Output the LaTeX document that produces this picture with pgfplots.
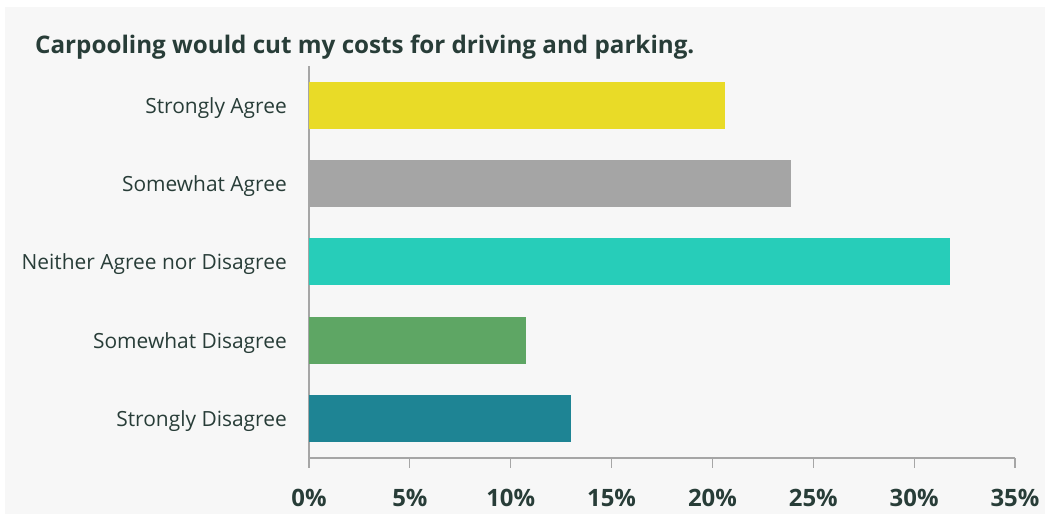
\documentclass[border=0pt]{standalone}
\usepackage{pgfplots}
\pgfplotsset{compat=1.18}
\usepackage{fontspec}
\setmainfont{Open Sans}
\definecolor{bg}{HTML}{F7F7F7}
\definecolor{txt}{HTML}{283D38}
\definecolor{axg}{HTML}{A6A6A6}
\definecolor{cSA}{HTML}{E9DB27}
\definecolor{cSoA}{HTML}{A5A5A5}
\definecolor{cN}{HTML}{27CDB9}
\definecolor{cSD}{HTML}{5EA664}
\definecolor{cStD}{HTML}{1E8494}
\begin{document}
\begin{tikzpicture}[x=1bp,y=1bp]
\fill[white] (-309,-56) rectangle (736,458);
\fill[bg] (-304,-56) rectangle (736,451);
\node[anchor=base west, text=txt, font=\fontsize{24.3}{28}\selectfont\bfseries, inner sep=0pt] at (-274,404) {Carpooling would cut my costs for driving and parking.};
\begin{axis}[
  at={(0,0)}, anchor=south west,
  scale only axis, width=706bp, height=392bp,
  xmin=0, xmax=35, ymin=-0.5, ymax=4.5,
  xbar, bar width=47bp, bar shift=0pt,
  axis x line*=bottom, axis y line*=left,
  axis line style={draw=axg, line width=1.2bp},
  xtick={0,5,...,35},
  xticklabel={\pgfmathprintnumber{\tick}\%},
  /pgf/number format/assume math mode=true,
  xtick align=outside,
  major tick length=10bp,
  xtick style={draw=axg, line width=1.2bp},
  ytick={0,1,2,3,4},
  yticklabels={Strongly Disagree,Somewhat Disagree,Neither Agree nor Disagree,Somewhat Agree,Strongly Agree},
  ytick style={draw=none},
  yticklabel style={font=\fontsize{21}{24}\selectfont, text=txt, inner sep=0pt, anchor=east, yshift=-2.5bp},
  yticklabel shift=12bp,
  xticklabel style={font=\fontsize{24}{28}\selectfont\bfseries, text=txt, inner sep=0pt, anchor=north},
  xticklabel shift=21bp,
  every axis plot/.append style={draw=none},
]
\addplot[fill=cStD] coordinates {(13.0,0)};
\addplot[fill=cSD] coordinates {(10.75,1)};
\addplot[fill=cN] coordinates {(31.8,2)};
\addplot[fill=cSoA] coordinates {(23.9,3)};
\addplot[fill=cSA] coordinates {(20.6,4)};
\end{axis}
\end{tikzpicture}
\end{document}
